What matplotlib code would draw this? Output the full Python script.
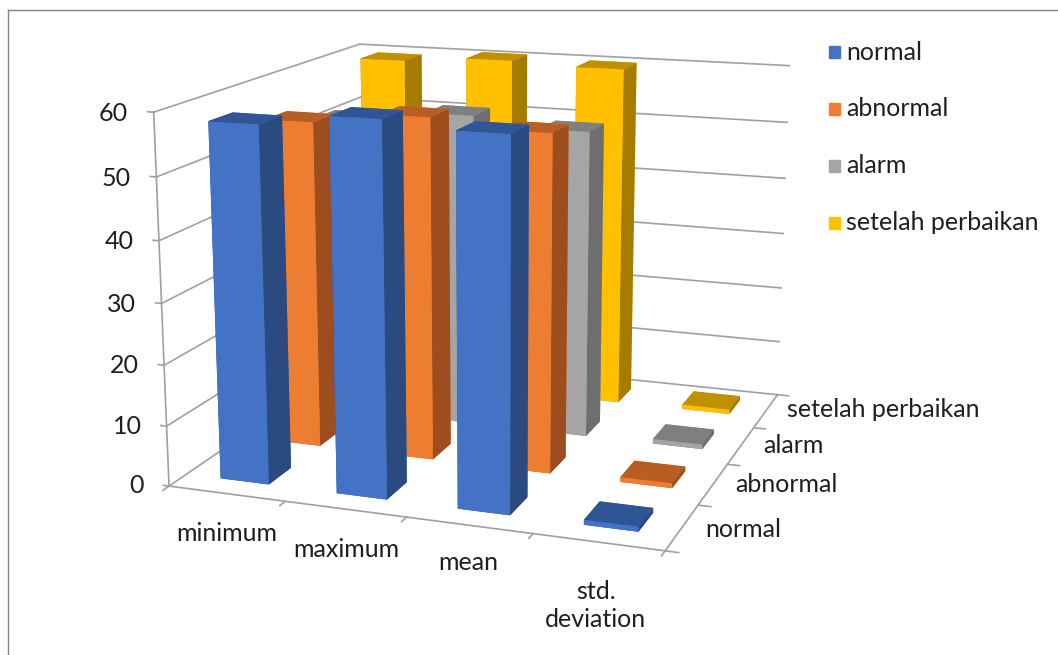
import numpy as np
import matplotlib
matplotlib.use("Agg")
import matplotlib.pyplot as plt
from matplotlib.lines import Line2D
from matplotlib.patches import Rectangle

plt.rcParams['font.family'] = ['Lato', 'DejaVu Sans']

categories = ['minimum', 'maximum', 'mean', 'std.\ndeviation']
series = ['normal', 'abnormal', 'alarm', 'setelah perbaikan']
z_ticks = [0, 10, 20, 30, 40, 50, 60]

normal = [58, 60, 59, 0.8]
abnormal = [55, 57, 55.7, 0.8]
alarm = [52, 54, 52.5, 0.8]
setelah = [59.5, 60.5, 60, 0.8]
values = [normal, abnormal, alarm, setelah]

front_colors = ['#4472C4', '#ED7D31', '#A5A5A5', '#FFC000']
top_colors = ['#2F5597', '#B85D23', '#7F7F7F', '#BF9000']
side_colors = ['#2A4A80', '#9E4E1E', '#6E6E6E', '#A67C00']
line_color = '#A0A0A0'
text_color = '#1F1F1F'
font_size = 18

W, H = 1058, 655
fig = plt.figure(figsize=(W/100, H/100), dpi=100)
# outer frame: only top and left show in the picture
fig.add_artist(Line2D([8/W, 1], [1-10/H, 1-10/H], color='#858585', lw=1.0))
fig.add_artist(Line2D([8/W, 8/W], [1-10/H, 0], color='#858585', lw=1.0))

ax = fig.add_axes([0, 0, 1, 1], projection='3d')
ax.set_proj_type('persp', focal_length=0.504)
ax.view_init(elev=14.096, azim=-70.496)
ax.set_box_aspect((1.352, 1.320, 1.0))
ax.set_xlim(0, 4)
ax.set_ylim(0, 4)
ax.set_zlim(0, 60)
ax.set_xticks([])
ax.set_yticks([])
ax.set_zticks([])
ax.set_axis_off()
ax.xaxis.set_visible(False)
ax.yaxis.set_visible(False)
ax.zaxis.set_visible(False)
ax.patch.set_alpha(0)
ax.computed_zorder = False

# place the square axes so the box lands where the original has it
scale, tx, ty = 4047.2, 493.5, 266.1
vx = ax.viewLim.intervalx
vy = ax.viewLim.intervaly
size = scale*(vx[1]-vx[0])
ax.set_position([(tx+scale*vx[0])/W, (H-ty+scale*vy[0])/H, size/W, size/H])


def line3d(xs, ys, zs):
    ax.plot(xs, ys, zs, color=line_color, lw=1.2, zorder=1)


# walls: only horizontal gridlines
for z in z_ticks:
    line3d([0, 0], [0, 4], [z, z])
    line3d([0, 4], [4, 4], [z, z])
    line3d([-0.05, 0], [0, 0], [z, z])
line3d([0, 0], [0, 0], [0, 60])
line3d([0, 4], [0, 0], [0, 0])
line3d([4, 4], [0, 4], [0, 0])
for i in range(5):
    line3d([i, i], [-0.1, 0], [0, 0])
    line3d([4, 4.1], [i, i], [0, 0])

width = 0.42
depth = 0.42
zo = 2
for j in range(3, -1, -1):
    for i in range(4):
        ax.bar3d(i+0.3, j+0.3, 0, width, depth, values[j][i], shade=False,
                 color=[top_colors[j], top_colors[j], front_colors[j], front_colors[j],
                        side_colors[j], side_colors[j]],
                 edgecolor='none', zorder=zo)
        zo += 1

# label anchors on the floor plane, nudged by hand
cat_x = [0.882, 1.83, 2.74, 3.807]
cat_y = [-0.767, -0.762, -0.687, -1.12]
ser_y = [0.52, 1.54, 2.57, 3.60]
for i, c in enumerate(categories):
    ax.text(cat_x[i], cat_y[i], 0, c, ha='center', va='center',
            fontsize=font_size, color=text_color, zorder=90, linespacing=1.25)
for j, s in enumerate(series):
    ax.text(4.17, ser_y[j], 0, s, ha='left', va='center', fontsize=font_size, color=text_color, zorder=90)
for z in z_ticks:
    ax.text(-0.22, 0, z-0.5, str(z), ha='right', va='center', fontsize=font_size, color=text_color, zorder=90)

for k, s in enumerate(series):
    y = 52 + k*57
    fig.add_artist(Rectangle((829/W, 1-(y+6)/H), 11/W, 12/H, color=front_colors[k],
                             transform=fig.transFigure))
    fig.text(846/W, 1-y/H, s, fontsize=font_size, va='center', color=text_color)

fig.savefig('out.png', dpi=100)
